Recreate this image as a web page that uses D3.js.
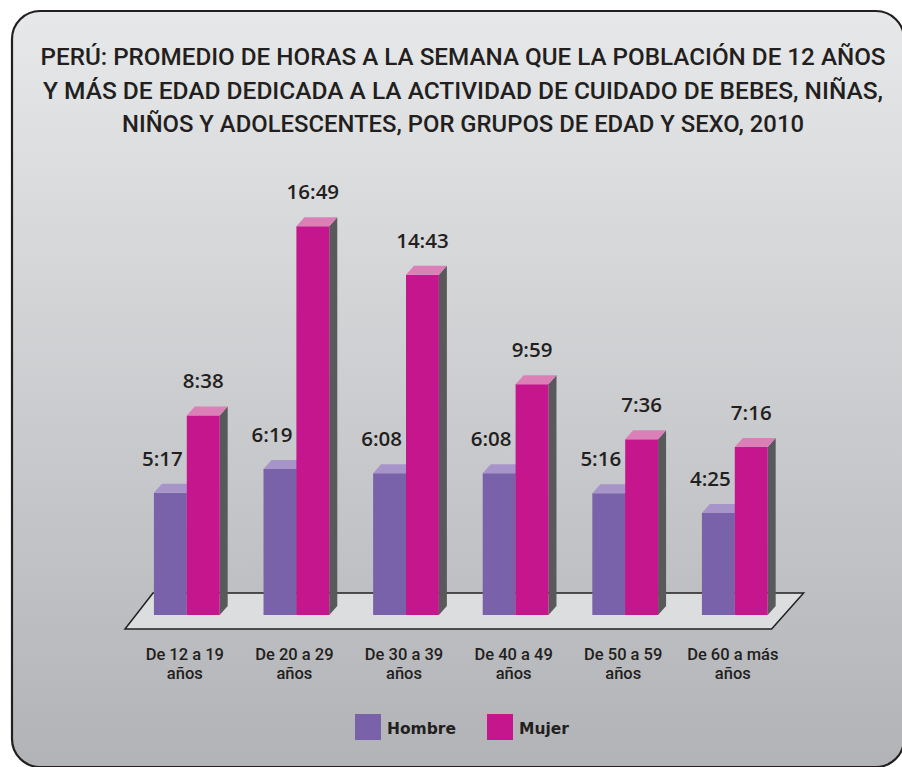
<!DOCTYPE html>
<html>
<head>
<meta charset="utf-8">
<script src="https://cdn.jsdelivr.net/npm/d3@7"></script>
<style>
  html, body { margin: 0; padding: 0; background: #ffffff; }
  svg { display: block; }
</style>
</head>
<body>
<div id="chart"></div>
<script>
// ======== DATA ========
const categories = [
    ['De 12 a 19', 'años'],
    ['De 20 a 29', 'años'],
    ['De 30 a 39', 'años'],
    ['De 40 a 49', 'años'],
    ['De 50 a 59', 'años'],
    ['De 60 a más', 'años']
];
const series = ['Hombre', 'Mujer'];
// hours:minutes per week, as printed on the chart
const hombre = ['5:17', '6:19', '6:08', '6:08', '5:16', '4:25'];
const mujer  = ['8:38', '16:49', '14:43', '9:59', '7:36', '7:16'];
const titleLines = [
    'PERÚ: PROMEDIO DE HORAS A LA SEMANA QUE LA POBLACIÓN DE 12 AÑOS',
    'Y MÁS DE EDAD DEDICADA A LA ACTIVIDAD DE CUIDADO DE BEBES, NIÑAS,',
    'NIÑOS Y ADOLESCENTES, POR GRUPOS DE EDAD Y SEXO, 2010'
];

const W = 902, H = 767;
const colors = {
    Hombre: { front: '#7a62aa', top: '#a794c8', side: '#5a4a80' },
    Mujer:  { front: '#c6168d', top: '#da80b7', side: '#58595b' }
};
const DX = 8, DY = 9;   // 3D depth offset

const toHours = s => { const [h, m] = s.split(':').map(Number); return h + m / 60; };

const svg = d3.select('#chart').append('svg')
    .attr('width', W).attr('height', H);

// background gradient
const defs = svg.append('defs');
const grad = defs.append('linearGradient')
    .attr('id', 'bg').attr('x1', 0).attr('y1', 0).attr('x2', 0).attr('y2', 1);
grad.append('stop').attr('offset', '0%').attr('stop-color', '#e7e8e9');
grad.append('stop').attr('offset', '100%').attr('stop-color', '#b2b3b7');

svg.append('rect')
    .attr('x', 12).attr('y', 11)
    .attr('width', 892).attr('height', 756)
    .attr('rx', 28).attr('ry', 28)
    .attr('fill', 'url(#bg)')
    .attr('stroke', '#231f20').attr('stroke-width', 2.2);

// title
svg.append('g').selectAll('text')
    .data(titleLines)
    .join('text')
    .attr('x', 463)
    .attr('y', (d, i) => 65 + i * 33.5)
    .attr('text-anchor', 'middle')
    .attr('font-family', 'Roboto, sans-serif')
    .attr('font-weight', 500)
    .attr('font-size', 24)
    .attr('fill', '#231f20')
    .attr('textLength', (d, i) => [845, 840, 682][i])
    .attr('lengthAdjust', 'spacingAndGlyphs')
    .text(d => d);

// scales
const x = d3.scaleBand()
    .domain(d3.range(categories.length))
    .range([132, 789.6])
    .paddingInner(0.4)
    .paddingOuter(0.2);
const xs = d3.scaleBand()
    .domain(series)
    .range([0, x.bandwidth()]);
const y = d3.scaleLinear()
    .domain([0, 17])
    .range([615, 222]);

const x0 = x.range()[0], x1 = x.range()[1];

// floor
const floorBack = 593, floorFront = 629;
svg.append('path')
    .attr('d', `M${x0 + 21},${floorBack} L${x1 + 14},${floorBack} L${x1 - 18},${floorFront} L${x0 - 7},${floorFront} Z`)
    .attr('fill', '#dcdddf')
    .attr('stroke', '#231f20').attr('stroke-width', 1.5)
    .attr('stroke-linejoin', 'miter');

// bars
const rows = categories.map((c, i) => ({ i, Hombre: hombre[i], Mujer: mujer[i] }));

const groups = svg.append('g').selectAll('g.grp')
    .data(rows)
    .join('g')
    .attr('class', 'grp')
    .attr('transform', d => `translate(${x(d.i)},0)`);

series.forEach(s => {
    const bx = xs(s), bw = xs.bandwidth();
    const col = colors[s];
    // side
    groups.append('path')
        .attr('d', d => {
            const t = y(toHours(d[s])), b = y(0);
            return `M${bx + bw},${t} L${bx + bw + DX},${t - DY} L${bx + bw + DX},${b - DY} L${bx + bw},${b} Z`;
        })
        .attr('fill', col.side);
    // front
    groups.append('rect')
        .attr('x', bx)
        .attr('y', d => y(toHours(d[s])))
        .attr('width', bw)
        .attr('height', d => y(0) - y(toHours(d[s])))
        .attr('fill', col.front);
    // top
    groups.append('path')
        .attr('d', d => {
            const t = y(toHours(d[s]));
            return `M${bx},${t} L${bx + DX},${t - DY} L${bx + bw + DX},${t - DY} L${bx + bw},${t} Z`;
        })
        .attr('fill', col.top);
    // value label
    groups.append('text')
        .attr('x', bx + bw / 2 + (s === 'Hombre' ? -8 : 0))
        .attr('y', d => y(toHours(d[s])) - 27)
        .attr('text-anchor', 'middle')
        .attr('font-family', '"Open Sans", sans-serif')
        .attr('font-weight', 600)
        .attr('font-size', 20.5)
        .attr('fill', '#231f20')
        .text(d => d[s]);
});

// category labels (one text per line)
const catG = svg.append('g').selectAll('g')
    .data(categories)
    .join('g')
    .attr('transform', (d, i) => `translate(${x(i) + x.bandwidth() / 2 - 2},0)`);
catG.selectAll('text')
    .data(d => d)
    .join('text')
    .attr('x', 0)
    .attr('y', (d, k) => 660 + k * 18.5)
    .attr('text-anchor', 'middle')
    .attr('font-family', 'Roboto, sans-serif')
    .attr('font-weight', 500)
    .attr('font-size', 16.5)
    .attr('fill', '#231f20')
    .text(d => d);

// legend
const legend = svg.append('g').selectAll('g')
    .data(series)
    .join('g')
    .attr('transform', (d, i) => `translate(${355 + i * 132},714)`);
legend.append('rect')
    .attr('width', 26).attr('height', 26)
    .attr('fill', d => colors[d].front);
legend.append('text')
    .attr('x', 32).attr('y', 19.5)
    .attr('font-family', '"DejaVu Sans", sans-serif')
    .attr('font-weight', 'bold')
    .attr('font-size', 15.5)
    .attr('fill', '#231f20')
    .text(d => d);
</script>
</body>
</html>
